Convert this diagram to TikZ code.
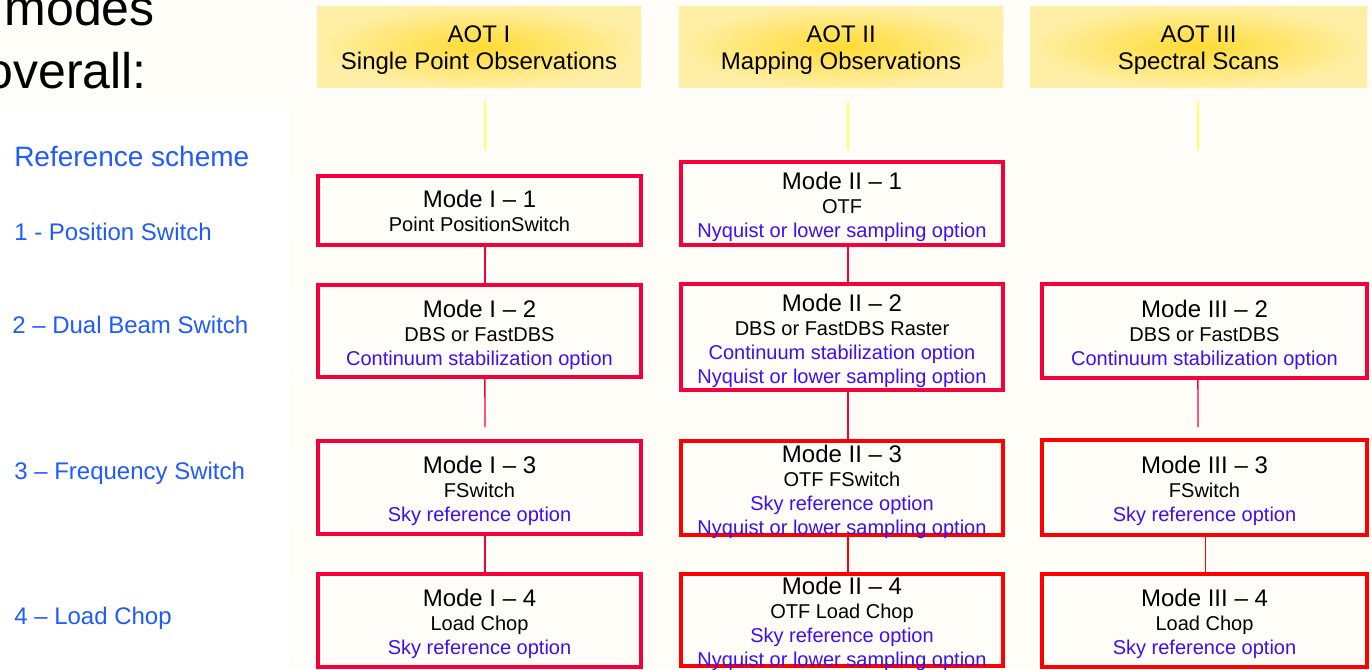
\documentclass[tikz,border=0pt]{standalone}
\usepackage{fontspec}
\setmainfont{Liberation Sans}
\usetikzlibrary{calc}
\definecolor{bgc}{HTML}{FFFDF8}
\definecolor{redA}{HTML}{F5003A}
\definecolor{redB}{HTML}{FF0000}
\definecolor{optblue}{HTML}{3A10F5}
\definecolor{lblblue}{HTML}{1F5BFF}
\definecolor{yelc}{HTML}{FFDB33}
\definecolor{yell}{HTML}{FFEFA6}
\definecolor{ylin}{HTML}{FFFF66}
\newcommand\modetitle[1]{{\fontsize{18}{18}\selectfont #1}}
\newcommand\optline[1]{\textcolor{optblue}{#1}}
\newcommand\headstrut{\rule{0pt}{17.5pt}}
\tikzset{
  modebox/.style={draw=redA, line width=3pt, fill=bgc, inner sep=0pt},
  modeboxb/.style={modebox, draw=redB},
  modetext/.style={align=center, inner sep=0pt, yshift=-2.7pt,
    font=\fontsize{15}{18}\selectfont, text=black},
  aothead/.style={shade, shading=radial, inner color=yelc, outer color=yell,
    align=center, inner sep=0pt, minimum height=60.75pt,
    font=\fontsize{18}{20.25}\selectfont, text=black},
  link/.style={draw=redA, line width=1.1pt},
  linkb/.style={draw=redB, line width=1.1pt},
  ylink/.style={draw=ylin, line width=2.2pt},
  lbl/.style={anchor=base west, inner sep=0pt, text=lblblue, font=\fontsize{18}{20}\selectfont},
  bigtxt/.style={anchor=base east, inner sep=0pt, text=black, font=\fontsize{37.5}{40}\selectfont},
}
\begin{document}
\begin{tikzpicture}[x=0.75pt, y=-0.75pt]
\path[use as bounding box] (0,0) rectangle (1372,669);
\clip (0,0) rectangle (1372,669);
\fill[bgc] (0,0) rectangle (1372,669);
\fill[white] (0,107) rectangle (290,669);

% top-left text
\node[bigtxt] (tmodes) at (155,25) {modes};
\node[bigtxt] (toverall) at (147,88) {overall:};

% left labels
\node[lbl, font=\fontsize{21}{23}\selectfont] (lref) at (14,166) {Reference scheme};
\node[lbl] (l1) at (14,240) {1 - Position Switch};
\node[lbl] (l2) at (12,333) {2 -- Dual Beam Switch};
\node[lbl] (l3) at (14,479) {3 -- Frequency Switch};
\node[lbl] (l4) at (14,624) {4 -- Load Chop};

% headers
\node[aothead, minimum width=243pt] (h1) at (479,46.5) {\headstrut AOT I\\Single Point Observations};
\node[aothead, minimum width=243pt] (h2) at (841,46.5) {\headstrut AOT II\\Mapping Observations};
\node[aothead, minimum width=252.75pt] (h3) at (1198.5,46.5) {\headstrut AOT III\\Spectral Scans};

% yellow stubs
\coordinate (y1a) at (485,101); \coordinate (y1b) at (485,150);
\coordinate (y2a) at (848,101); \coordinate (y2b) at (848,150);
\coordinate (y3a) at (1198,101); \coordinate (y3b) at (1198,150);
\draw[ylink] (y1a) -- (y1b);
\draw[ylink] (y2a) -- (y2b);
\draw[ylink] (y3a) -- (y3b);

% column I
\node[modebox, minimum width=242.25pt, minimum height=51.75pt] (m11) at (479.5,210.5) {};
\node[modetext, yshift=2.2pt] (m11t) at (m11.center) {\modetitle{Mode I -- 1}\\Point PositionSwitch};
\node[modebox, minimum width=242.25pt, minimum height=69pt] (m12) at (479.5,331) {};
\node[modetext] (m12t) at (m12.center) {\modetitle{Mode I -- 2}\\DBS or FastDBS\\\optline{Continuum stabilization option}};
\node[modebox, minimum width=242.25pt, minimum height=69.75pt] (m13) at (479.5,487.5) {};
\node[modetext] (m13t) at (m13.center) {\modetitle{Mode I -- 3}\\FSwitch\\\optline{Sky reference option}};
\node[modebox, minimum width=242.25pt, minimum height=69.75pt] (m14) at (479.5,620.5) {};
\node[modetext] (m14t) at (m14.center) {\modetitle{Mode I -- 4}\\Load Chop\\\optline{Sky reference option}};

% column II
\node[modebox, minimum width=241.5pt, minimum height=62.25pt] (m21) at (842,203.5) {};
\node[modetext] (m21t) at (m21.center) {\modetitle{Mode II -- 1}\\OTF\\\optline{Nyquist or lower sampling option}};
\node[modebox, minimum width=241.5pt, minimum height=79.5pt] (m22) at (842,337) {};
\node[modetext] (m22t) at (m22.center) {\modetitle{Mode II -- 2}\\DBS or FastDBS Raster\\\optline{Continuum stabilization option}\\\optline{Nyquist or lower sampling option}};
\node[modeboxb, minimum width=241.5pt, minimum height=70.5pt] (m23) at (842,488) {};
\node[modetext] (m23t) at (m23.center) {\modetitle{Mode II -- 3}\\OTF FSwitch\\\optline{Sky reference option}\\\optline{Nyquist or lower sampling option}};
\node[modeboxb, minimum width=241.5pt, minimum height=69pt] (m24) at (842,620) {};
\node[modetext] (m24t) at (m24.center) {\modetitle{Mode II -- 4}\\OTF Load Chop\\\optline{Sky reference option}\\\optline{Nyquist or lower sampling option}};

% column III
\node[modebox, minimum width=243.75pt, minimum height=70.5pt] (m32) at (1204.5,331) {};
\node[modetext] (m32t) at (m32.center) {\modetitle{Mode III -- 2}\\DBS or FastDBS\\\optline{Continuum stabilization option}};
\node[modeboxb, minimum width=243.75pt, minimum height=71.25pt] (m33) at (1204.5,487.5) {};
\node[modetext] (m33t) at (m33.center) {\modetitle{Mode III -- 3}\\FSwitch\\\optline{Sky reference option}};
\node[modeboxb, minimum width=243.75pt, minimum height=69.75pt] (m34) at (1204.5,620.5) {};
\node[modetext] (m34t) at (m34.center) {\modetitle{Mode III -- 4}\\Load Chop\\\optline{Sky reference option}};

% connectors
\coordinate (c12) at (485,427);
\coordinate (c32) at (1198,427);
\draw[link] ([xshift=4.1pt]m11.south) -- ([xshift=4.1pt]m12.north);
\draw[link] ([xshift=4.1pt]m12.south) -- (c12);
\draw[link] ([xshift=4.1pt]m13.south) -- ([xshift=4.1pt]m14.north);
\draw[link] ([xshift=4.5pt]m21.south) -- ([xshift=4.5pt]m22.north);
\draw[link] ([xshift=4.5pt]m22.south) -- ([xshift=4.5pt]m23.north);
\draw[linkb] ([xshift=4.5pt]m23.south) -- ([xshift=4.5pt]m24.north);
\draw[link] ([xshift=-4.9pt]m32.south) -- (c32);
\draw[linkb] ([xshift=0.9pt]m33.south) -- ([xshift=0.9pt]m34.north);
\end{tikzpicture}
\end{document}
